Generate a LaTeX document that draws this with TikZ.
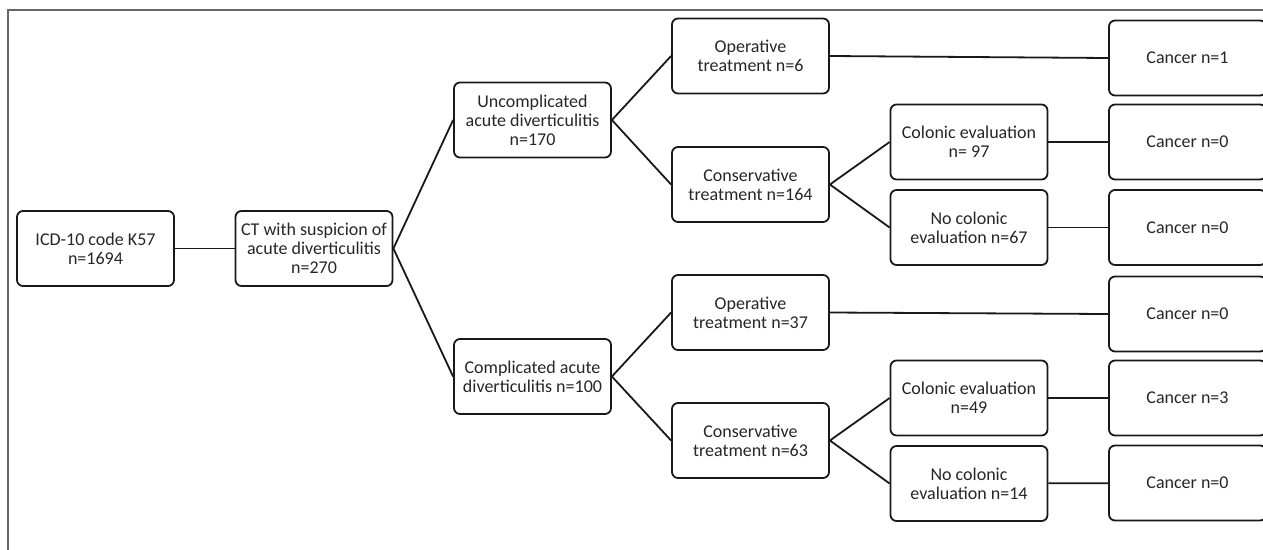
\documentclass[tikz,border=0pt]{standalone}
\usepackage{fontspec}
\setmainfont{Carlito}
\usepackage{tikz}

\begin{document}
\begin{tikzpicture}[
    x=1pt,y=-1pt,
    box/.style={draw,black!90,line width=1.8pt,rounded corners=6pt,minimum width=157pt,minimum height=75pt,inner sep=2pt,align=center,text=black!85,font=\fontsize{18}{19}\selectfont},
    link/.style={black!90,line width=1.8pt}
    ]
    \useasboundingbox (0,0) rectangle (1263,549);
    \clip (0,0) rectangle (1263,549);
    \draw[black!60, line width=1.2pt] (8,560) |- (1270,10);
    \node[box] (icd) at (95.5,248.5) {ICD-10 code K57\\n=1694};
    \node[box] (ct) at (314,248.5) {CT with suspicion of\\acute diverticulitis\\n=270};
    \node[box] (uncomp) at (532.5,120) {Uncomplicated\\acute diverticulitis\\n=170};
    \node[box] (comp) at (532.5,376.5) {Complicated acute\\diverticulitis n=100};
    \node[box] (opu) at (750.5,56) {Operative\\treatment n=6};
    \node[box] (consu) at (750.5,184.5) {Conservative\\treatment n=164};
    \node[box] (opc) at (750.5,312.5) {Operative\\treatment n=37};
    \node[box] (consc) at (750.5,440.5) {Conservative\\treatment n=63};
    \node[box] (colu) at (969,142) {Colonic evaluation\\n= 97};
    \node[box] (nocolu) at (969,227.5) {No colonic\\evaluation n=67};
    \node[box] (colc) at (969,398) {Colonic evaluation\\n=49};
    \node[box] (nocolc) at (969,483.5) {No colonic\\evaluation n=14};
    \node[box] (canopu) at (1187.5,58) {Cancer n=1};
    \node[box] (cancolu) at (1187.5,142) {Cancer n=0};
    \node[box] (cannocolu) at (1187.5,227.5) {Cancer n=0};
    \node[box] (canopc) at (1187.5,314) {Cancer n=0};
    \node[box] (cancolc) at (1187.5,398) {Cancer n=3};
    \node[box] (cannocolc) at (1187.5,483) {Cancer n=0};
    \draw[link] (icd) -- (ct);
    \draw[link] (uncomp.west) -- (ct.east) -- (comp.west);
    \draw[link] (opu.west) -- (uncomp.east) -- (consu.west);
    \draw[link] (opc.west) -- (comp.east) -- (consc.west);
    \draw[link] (colu.west) -- (consu.east) -- (nocolu.west);
    \draw[link] (colc.west) -- (consc.east) -- (nocolc.west);
    \draw[link] (opu.east) -- (canopu.west);
    \draw[link] (colu) -- (cancolu);
    \draw[link] (nocolu) -- (cannocolu);
    \draw[link] (opc.east) -- (canopc.west);
    \draw[link] (colc) -- (cancolc);
    \draw[link] (nocolc) -- (cannocolc);
  \end{tikzpicture}
\end{document}
